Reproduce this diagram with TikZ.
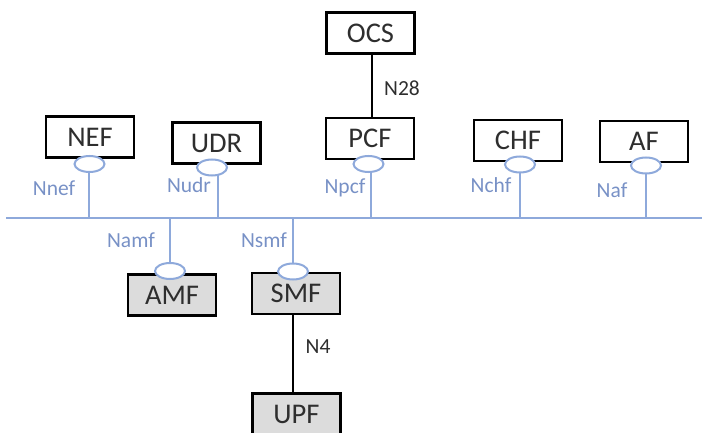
\documentclass[tikz,border=0pt]{standalone}
\usepackage{fontspec}
\usetikzlibrary{shapes.geometric}
\setmainfont{Carlito}
\begin{document}
\definecolor{busblue}{HTML}{8EA9DB}
\definecolor{reflabel}{HTML}{7891C6}
\definecolor{nftext}{HTML}{2E2E2E}
\definecolor{nfgray}{HTML}{DCDCDC}
\begin{tikzpicture}[x=1pt,y=-1pt,
  nf/.style={draw=black,line width=2.4pt,minimum width=88pt,minimum height=41pt,
    inner sep=0pt,text=nftext,font=\fontsize{28.5}{32}\selectfont},
  nfgrey/.style={nf,fill=nfgray},
  port/.style={draw=busblue,fill=white,line width=2pt,ellipse,minimum width=30pt,
    minimum height=16pt,inner sep=0pt},
  sbi/.style={draw=busblue,line width=2pt},
  ref/.style={text=reflabel,font=\fontsize{21.5}{25}\selectfont,inner sep=0pt},
  link/.style={draw=black,line width=2.4pt},
  linklabel/.style={text=nftext,font=\fontsize{21.5}{25}\selectfont,inner sep=0pt}]
\useasboundingbox (0,0) rectangle (702,433);

% service-based bus
\coordinate (busL) at (6,218);
\coordinate (busR) at (702,218);
\draw[sbi] (busL) -- (busR);

% network functions on the upper side
\node[nf] (ocs) at (370.5,33) {OCS};
\node[nf] (nef) at (90,137) {NEF};
\node[nf] (udr) at (216.5,143) {UDR};
\node[nf] (pcf) at (370,138.5) {PCF};
\node[nf] (chf) at (518,140.5) {CHF};
\node[nf] (af)  at (644,141.5) {AF};

% network functions on the lower side
\node[nfgrey] (amf) at (172,295) {AMF};
\node[nfgrey] (smf) at (296,293.5) {SMF};
\node[nfgrey] (upf) at (296.5,414) {UPF};

% point-to-point reference points
\draw[link] (ocs.south) ++(1.5,0) coordinate (n28top) -- (pcf.north -| n28top);
\draw[link] (smf.south) ++(-3,0) coordinate (n4top) -- (upf.north -| n4top);
\node[linklabel] (n28) at (402,88) {N28};
\node[linklabel] (n4) at (318,347) {N4};

% drops from each port to the bus (drawn first, ports cover their ends)
\coordinate (dnef) at (89,170);
\coordinate (dudr) at (218,174);
\coordinate (dpcf) at (371,170);
\coordinate (dchf) at (520,170);
\coordinate (daf)  at (646,170);
\coordinate (damf) at (170,266);
\coordinate (dsmf) at (293,266);
\foreach \d in {dnef,dudr,dpcf,dchf,daf,damf,dsmf}
  \draw[sbi] (\d) -- (\d |- busL);

% service interface ports
\node[port] (pnef) at (89.5,164) {};
\node[port] (pudr) at (212,167.5) {};
\node[port] (ppcf) at (368.5,164) {};
\node[port] (pchf) at (520,164.5) {};
\node[port] (paf)  at (646,165.5) {};
\node[port] (pamf) at (170,271) {};
\node[port] (psmf) at (293,271.5) {};

\node[ref] (lnef) at (54,188) {Nnef};
\node[ref] (ludr) at (189,185) {Nudr};
\node[ref] (lpcf) at (345,188) {Npcf};
\node[ref] (lchf) at (491,185) {Nchf};
\node[ref] (laf)  at (612,190) {Naf};
\node[ref] (lamf) at (131,240) {Namf};
\node[ref] (lsmf) at (264,240) {Nsmf};
\end{tikzpicture}
\end{document}
